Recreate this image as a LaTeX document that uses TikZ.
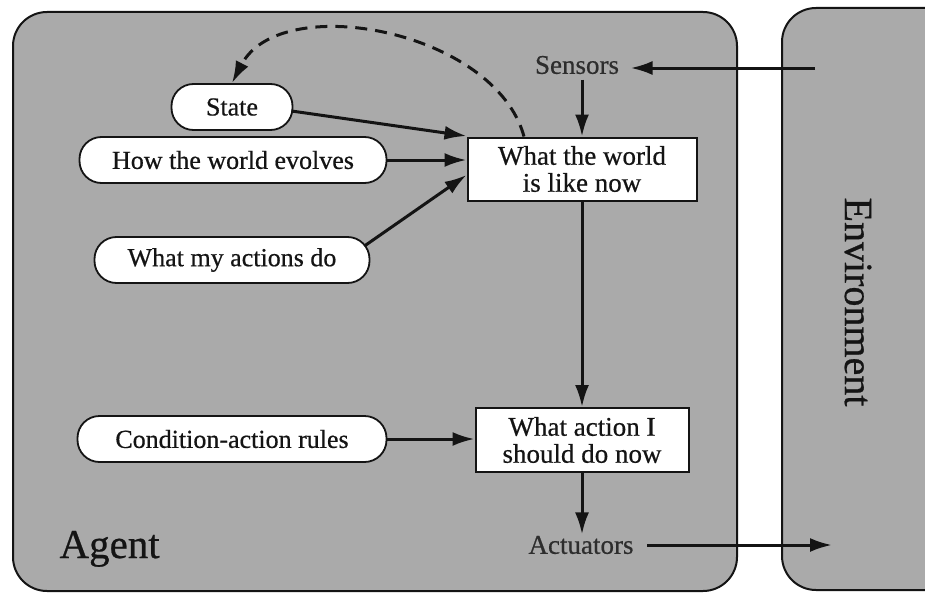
\documentclass[tikz,border=0pt]{standalone}
\usepackage{fontspec}
\setmainfont{Liberation Serif}[FakeBold=0.6]
\usetikzlibrary{arrows.meta}
\definecolor{panel}{RGB}{170,170,170}
\definecolor{ink}{RGB}{20,20,20}
\definecolor{softink}{RGB}{45,45,45}
\tikzset{
  panelbox/.style={draw=ink, line width=2pt, fill=panel, rounded corners=34pt},
  pill/.style={draw=ink, line width=1.8pt, fill=white, rounded corners=22pt,
    minimum height=46pt, inner sep=0pt, font=\fontsize{26}{29}\selectfont, text=ink},
  stepbox/.style={draw=ink, line width=2pt, fill=white, inner sep=0pt,
    align=center, font=\fontsize{27}{29}\selectfont, text=ink},
  plain/.style={font=\fontsize{27}{30}\selectfont, text=softink},
  tip/.style={-{Latex[length=22pt,width=14pt]}},
  conn/.style={draw=ink, line width=3pt, tip},
}
\begin{document}
\begin{tikzpicture}[x=1pt,y=-1pt]
\useasboundingbox (0,0) rectangle (925,594);
\fill[white] (0,0) rectangle (925,594);
\begin{scope}
  \clip (0,0) rectangle (925,594);
  % agent and environment panels
  \path[panelbox] (13,12) rectangle (737,591);
  \path[panelbox] (782,8) rectangle (962,590);
\end{scope}

% labels of the panels
\node[font=\fontsize{41}{44}\selectfont, text=ink, anchor=base west] (agent) at (56,558) {Agent};
\node[font=\fontsize{40}{44}\selectfont, text=ink, rotate=-90] (env) at (858,302) {Environment};

% sensors and actuators
\node[plain] (sens) at (577,65) {Sensors};
\node[plain] (act) at (581,545) {Actuators};
\coordinate (envin) at (815,68);
\coordinate (envout) at (832,545);

% knowledge held by the agent
\node[pill, minimum width=121pt] (state) at (232,107) {State};
\node[pill, minimum width=307pt] (evolve) at (233,160) {How the world evolves};
\node[pill, minimum width=275pt] (acts) at (232,260) {What my actions do};
\node[pill, minimum width=309pt] (rules) at (232,439) {Condition-action rules};

% processing steps
\node[stepbox, minimum width=229pt, minimum height=63pt] (world) at (582,169)
  {What the world\\[-2pt]is like now};
\node[stepbox, minimum width=213pt, minimum height=64pt] (choose) at (582,440)
  {What action I\\[-2pt]should do now};

% connectors
\draw[conn] (envin) -- ([xshift=8pt]sens.east |- envin);
\draw[conn] ([yshift=-2pt]sens.south -| world.north) -- (world.north);
\draw[conn] ([xshift=-2pt,yshift=-4pt]state.east) -- ([yshift=-2pt]world.west |- 0,134);
\draw[conn] (evolve.east) -- (evolve.east -| world.west);
\draw[conn] ([xshift=-6pt,yshift=14pt]acts.east) -- ([yshift=-6pt]world.west);
\draw[conn] (rules.east) -- (rules.east -| choose.west);
\draw[conn] (world.south) -- (choose.north);
\draw[conn] (choose.south) -- ([yshift=-2pt]act.north -| choose.south);
\draw[conn] ([xshift=10pt]act.east) -- (envout);
\draw[draw=ink, line width=3pt, dash pattern=on 12pt off 8pt, tip]
  ([xshift=-58pt]world.north) .. controls (495,30) and (280,-10) .. (state.north);
\end{tikzpicture}
\end{document}
